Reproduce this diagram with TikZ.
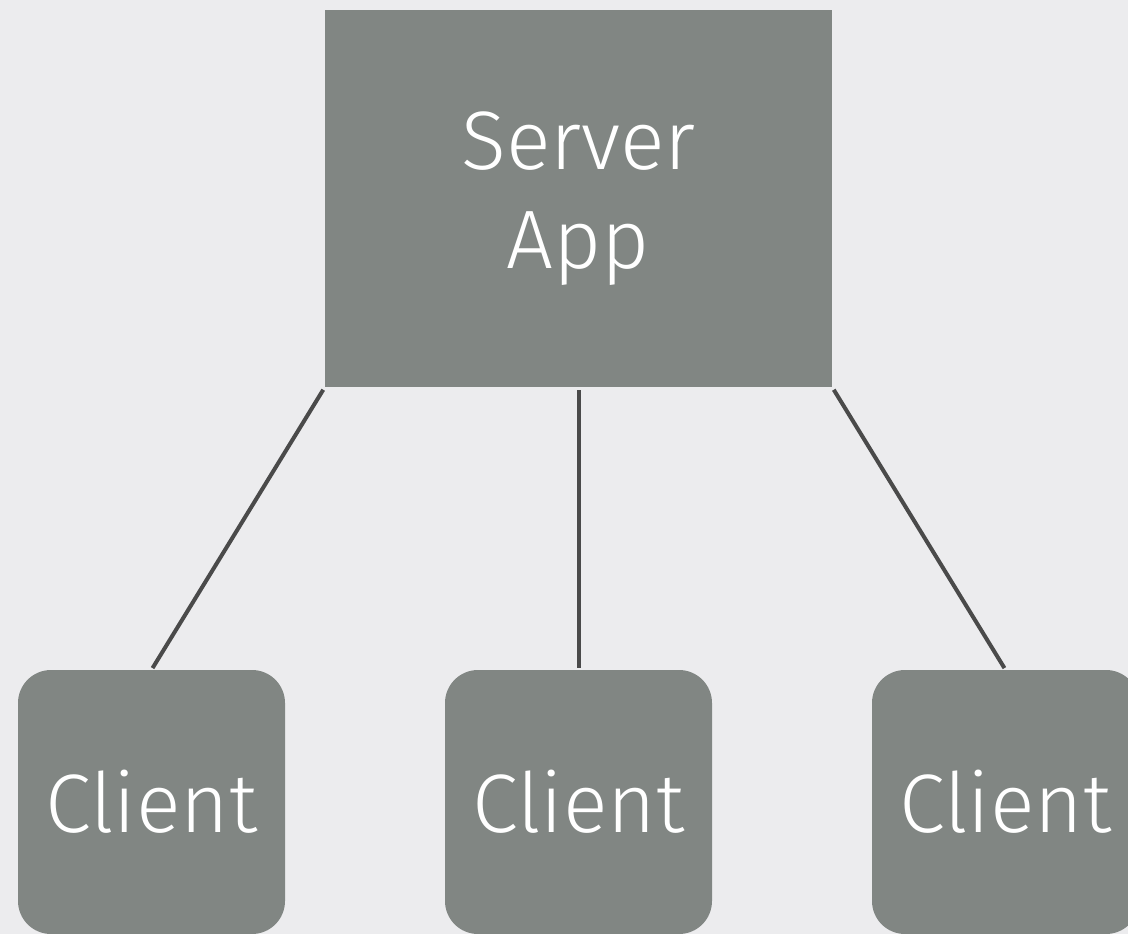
\documentclass[tikz,border=0pt]{standalone}
\usepackage{fontspec}
\setmainfont{Fira Sans}[UprightFont=* Light]
\definecolor{bggray}{HTML}{ECECEE}
\definecolor{boxgray}{HTML}{818683}
\definecolor{linegray}{HTML}{4A4A4A}
\tikzset{
  server/.style={fill=boxgray,text=white,minimum width=507pt,minimum height=377pt,align=center,font=\fontsize{83}{99}\selectfont},
  client/.style={fill=boxgray,text=white,rounded corners=33pt,minimum width=267pt,minimum height=264pt,font=\fontsize{83}{99}\selectfont},
  link/.style={linegray,line width=4pt,shorten <=3pt,shorten >=2pt}
}
\begin{document}
\begin{tikzpicture}[x=1pt,y=-1pt]
\fill [bggray] (0,0) rectangle (1128,934);
\useasboundingbox (0,0) rectangle (1128,934);
\node [server] (S) at (578.5,198.5) {Server\\App};
\node [client] (C1) at (151.5,802) {Client};
\node [client] (C2) at (578.5,802) {Client};
\node [client] (C3) at (1005.5,802) {Client};
\draw [link] (S.south west) -- (C1.north);
\draw [link] (S.south) -- (C2.north);
\draw [link] (S.south east) -- (C3.north);
\end{tikzpicture}
\end{document}
